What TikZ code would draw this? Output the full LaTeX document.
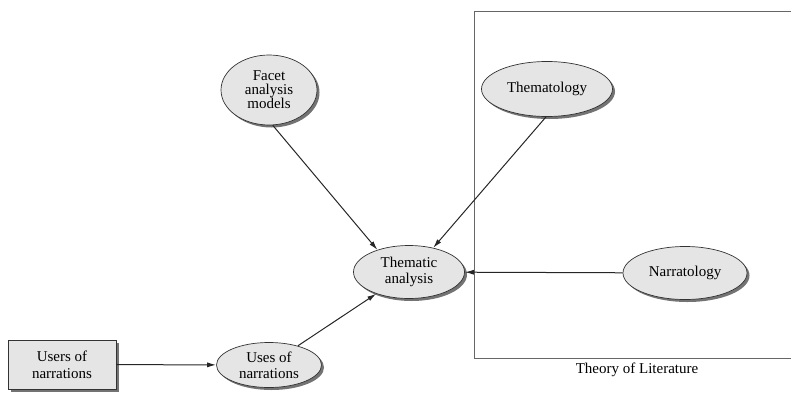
\documentclass[tikz,border=0pt]{standalone}
\usepackage{fontspec}
\setmainfont{Liberation Serif}
\usetikzlibrary{shapes.geometric,shadows,arrows.meta}

\begin{document}
\begin{tikzpicture}[x=1pt,y=-1pt,font=\fontsize{15}{14}\selectfont,
  oval/.style={ellipse,draw=black!80,line width=.7pt,fill=black!10,inner sep=0pt,align=center,
    drop shadow={shadow xshift=2.5pt,shadow yshift=-2.5pt,fill=black!55,opacity=1}},
  actor/.style={rectangle,draw=black!80,line width=.7pt,fill=black!10,inner sep=0pt,align=center,
    drop shadow={shadow xshift=2.5pt,shadow yshift=-2.5pt,fill=black!55,opacity=1}},
  link/.style={draw=black!85,line width=1pt,-{Latex[length=9pt,width=5pt]}}]
\useasboundingbox (0,0) rectangle (791,393);
\draw[black!60,line width=.8pt] (791,11) -- (474,11) -- (474,358) -- (791,358);
\node (theory) at (637,370) {Theory of Literature};
\node[oval,minimum width=96,minimum height=70] (facet) at (269,90) {Facet\\analysis\\models};
\node[oval,minimum width=131,minimum height=55] (thematology) at (547,89) {Thematology};
\node[oval,minimum width=111,minimum height=53,font=\fontsize{15}{16}\selectfont] (thematic) at (409,272) {Thematic\\analysis};
\node[oval,minimum width=124,minimum height=53] (narratology) at (685,273) {Narratology};
\node[oval,minimum width=105,minimum height=45,font=\fontsize{15}{16}\selectfont] (uses) at (269,365) {Uses of\\narrations};
\node[actor,minimum width=108,minimum height=49,font=\fontsize{15}{17}\selectfont] (users) at (62,364.5) {Users of\\narrations};
\draw[link] (facet.-84) -- (thematic.145);
\draw[link] (thematology.-92) -- (thematic.45);
\draw[link] (narratology) -- (thematic);
\draw[link] (users) -- (uses);
\draw[link] (uses) -- (thematic);
\end{tikzpicture}
\end{document}
